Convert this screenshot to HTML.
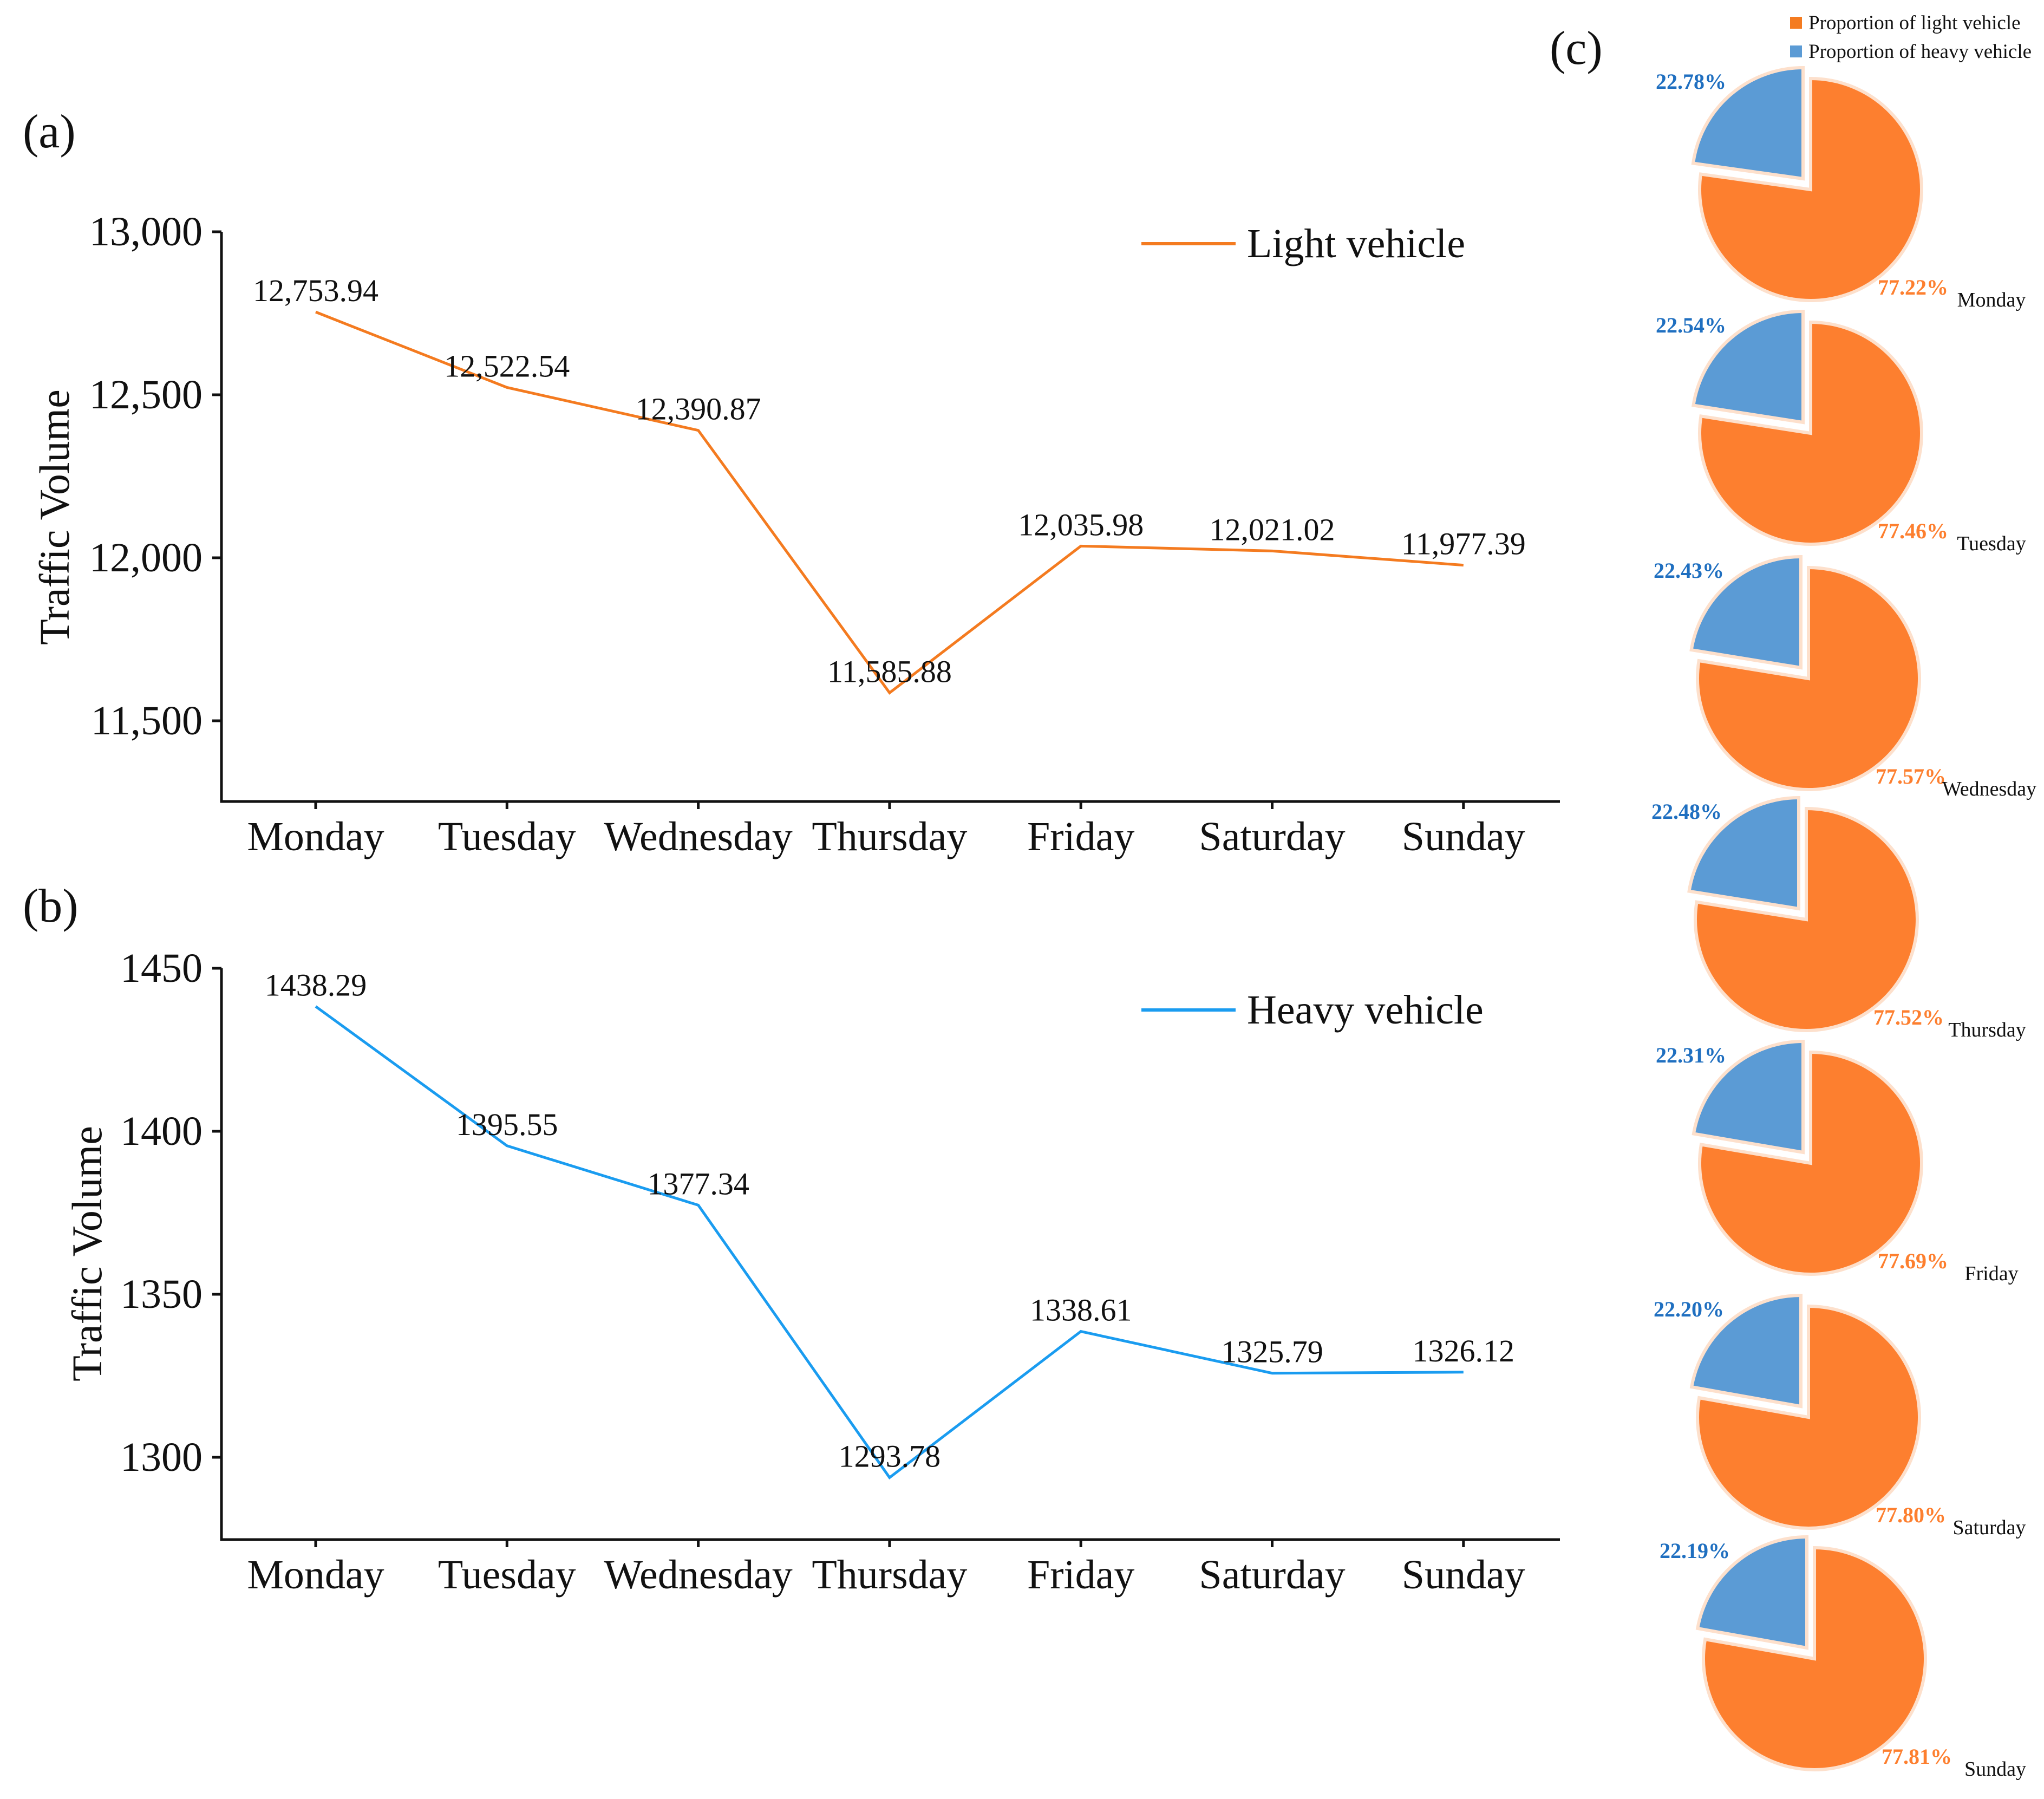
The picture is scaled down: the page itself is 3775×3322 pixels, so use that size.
<!DOCTYPE html>
<html><head><meta charset="utf-8"><style>
html,body{margin:0;padding:0;background:#fff}
svg{display:block;font-family:"Liberation Serif",serif}
</style></head><body>
<svg id="fig" width="3775" height="3322" viewBox="0 0 3775 3322" xmlns="http://www.w3.org/2000/svg">
<g id="chartA"></g>
<g id="chartB"></g>
<g id="pies"></g>
</svg>
<script>
const days = ["Monday","Tuesday","Wednesday","Thursday","Friday","Saturday","Sunday"];
const lightValues = [12753.94,12522.54,12390.87,11585.88,12035.98,12021.02,11977.39];
const lightLabels = ["12,753.94","12,522.54","12,390.87","11,585.88","12,035.98","12,021.02","11,977.39"];
const lightTicks = [13000,12500,12000,11500];
const lightTickLabels = ["13,000","12,500","12,000","11,500"];
const heavyValues = [1438.29,1395.55,1377.34,1293.78,1338.61,1325.79,1326.12];
const heavyLabels = ["1438.29","1395.55","1377.34","1293.78","1338.61","1325.79","1326.12"];
const heavyTicks = [1450,1400,1350,1300];
const heavyTickLabels = ["1450","1400","1350","1300"];
const heavyShare = [22.78,22.54,22.43,22.48,22.31,22.20,22.19];
const lightShare = [77.22,77.46,77.57,77.52,77.69,77.80,77.81];

const NS="http://www.w3.org/2000/svg";
function mk(parent,tag,attrs,text){const e=document.createElementNS(NS,tag);for(const k in attrs)e.setAttribute(k,attrs[k]);if(text!==undefined)e.textContent=text;parent.appendChild(e);return e;}
const xPos=i=>583+i*353.3;

function lineChart(g,cfg){
  const y=v=>cfg.y0+(cfg.v0-v)*cfg.k;
  let e;
  e=mk(g,'path',{d:`M409 ${cfg.top} V${cfg.bottom} H2881`,fill:'none',stroke:'#111','stroke-width':5});
  
  
  cfg.ticks.forEach((t,i)=>{
    e=mk(g,'line',{x1:392,x2:409,y1:y(t),y2:y(t),stroke:'#111','stroke-width':5});
    
    
    e=mk(g,'text',{x:374,y:y(t)+25,'text-anchor':'end','font-size':76,fill:'#111'},cfg.tickLabels[i]);
    
    
  });
  days.forEach((d,i)=>{
    e=mk(g,'line',{x1:xPos(i),x2:xPos(i),y1:cfg.bottom,y2:cfg.bottom+14,stroke:'#111','stroke-width':5});
    
    
    e=mk(g,'text',{x:xPos(i),y:cfg.bottom+90,'text-anchor':'middle','font-size':76,fill:'#111'},d);
    
    
  });
  e=mk(g,'text',{x:0,y:0,transform:`translate(${cfg.titleX},${cfg.titleY}) rotate(-90)`,'text-anchor':'middle','font-size':78,fill:'#111'},'Traffic Volume');
  
  
  e=mk(g,'polyline',{points:cfg.values.map((v,i)=>xPos(i)+','+y(v)).join(' '),fill:'none',stroke:cfg.color,'stroke-width':5});
  
  
  cfg.values.forEach((v,i)=>{
    e=mk(g,'text',{x:xPos(i),y:y(v)-20,'text-anchor':'middle','font-size':58,fill:'#111'},cfg.labels[i]);
    
    
  });
  e=mk(g,'line',{x1:2108,x2:2282,y1:cfg.legY,y2:cfg.legY,stroke:cfg.color,'stroke-width':6});
  
  
  e=mk(g,'text',{x:2303,y:cfg.legY+25,'font-size':76,fill:'#111'},cfg.legend);
  
  
  e=mk(g,'text',{x:42,y:cfg.panelY,'font-size':88,fill:'#111'},cfg.panel);
  
  
}
lineChart(document.getElementById('chartA'),{values:lightValues,labels:lightLabels,ticks:lightTicks,tickLabels:lightTickLabels,v0:13000,y0:428,k:301/500,top:428,bottom:1480,color:'#f47b20',legend:'Light vehicle',legY:450,panel:'(a)',panelY:272,titleX:127,titleY:955});
lineChart(document.getElementById('chartB'),{values:heavyValues,labels:heavyLabels,ticks:heavyTicks,tickLabels:heavyTickLabels,v0:1450,y0:1788,k:301/50,top:1788,bottom:2843,color:'#1a9cf0',legend:'Heavy vehicle',legY:1865,panel:'(b)',panelY:1702,titleX:187,titleY:2315});

const pg=document.getElementById('pies');
const pieCY=[344,794,1247,1692,2142,2611,3057];
const pieCX=[3338,3338,3334,3330,3338,3334,3345];
let el;
el=mk(pg,'text',{x:2862,y:118,'font-size':88,fill:'#111'},'(c)');


[['#f47b20','Proportion of light vehicle',42],['#5b9bd5','Proportion of heavy vehicle',95]].forEach(([c,t,yy])=>{
  el=mk(pg,'rect',{x:3306,y:yy-11,width:22,height:22,fill:c});
  
  
  el=mk(pg,'text',{x:3340,y:yy+12,'font-size':37,fill:'#111'},t);
  
  
});
days.forEach((d,i)=>{
  const cx=pieCX[i],cy=pieCY[i],r=205;
  const a=heavyShare[i]/100*2*Math.PI;
  const bx=Math.sin(-a),by=-Math.cos(-a);
  const ox=cx+6,oy=cy+6;
  el=mk(pg,'path',{d:`M${ox} ${oy} L${ox} ${oy-r} A${r} ${r} 0 1 1 ${ox+r*bx} ${oy+r*by} Z`,fill:'#fd7f2f',stroke:'#fde0cc','stroke-width':6});
  
  
  const hx=cx-8,hy=cy-14;
  el=mk(pg,'path',{d:`M${hx} ${hy} L${hx} ${hy-r} A${r} ${r} 0 0 0 ${hx+r*bx} ${hy+r*by} Z`,fill:'#5b9bd5',stroke:'#fde0cc','stroke-width':6});
  
  
  el=mk(pg,'text',{x:cx-215,y:cy-180,'text-anchor':'middle','font-size':40,'font-weight':'bold',fill:'#1f6fc0'},heavyShare[i].toFixed(2)+'%');
  
  
  el=mk(pg,'text',{x:cx+195,y:cy+200,'text-anchor':'middle','font-size':40,'font-weight':'bold',fill:'#fd7f2f'},lightShare[i].toFixed(2)+'%');
  
  
  el=mk(pg,'text',{x:cx+340,y:cy+222,'text-anchor':'middle','font-size':38,fill:'#111'},d);
  
  
});
</script>
</body></html>
